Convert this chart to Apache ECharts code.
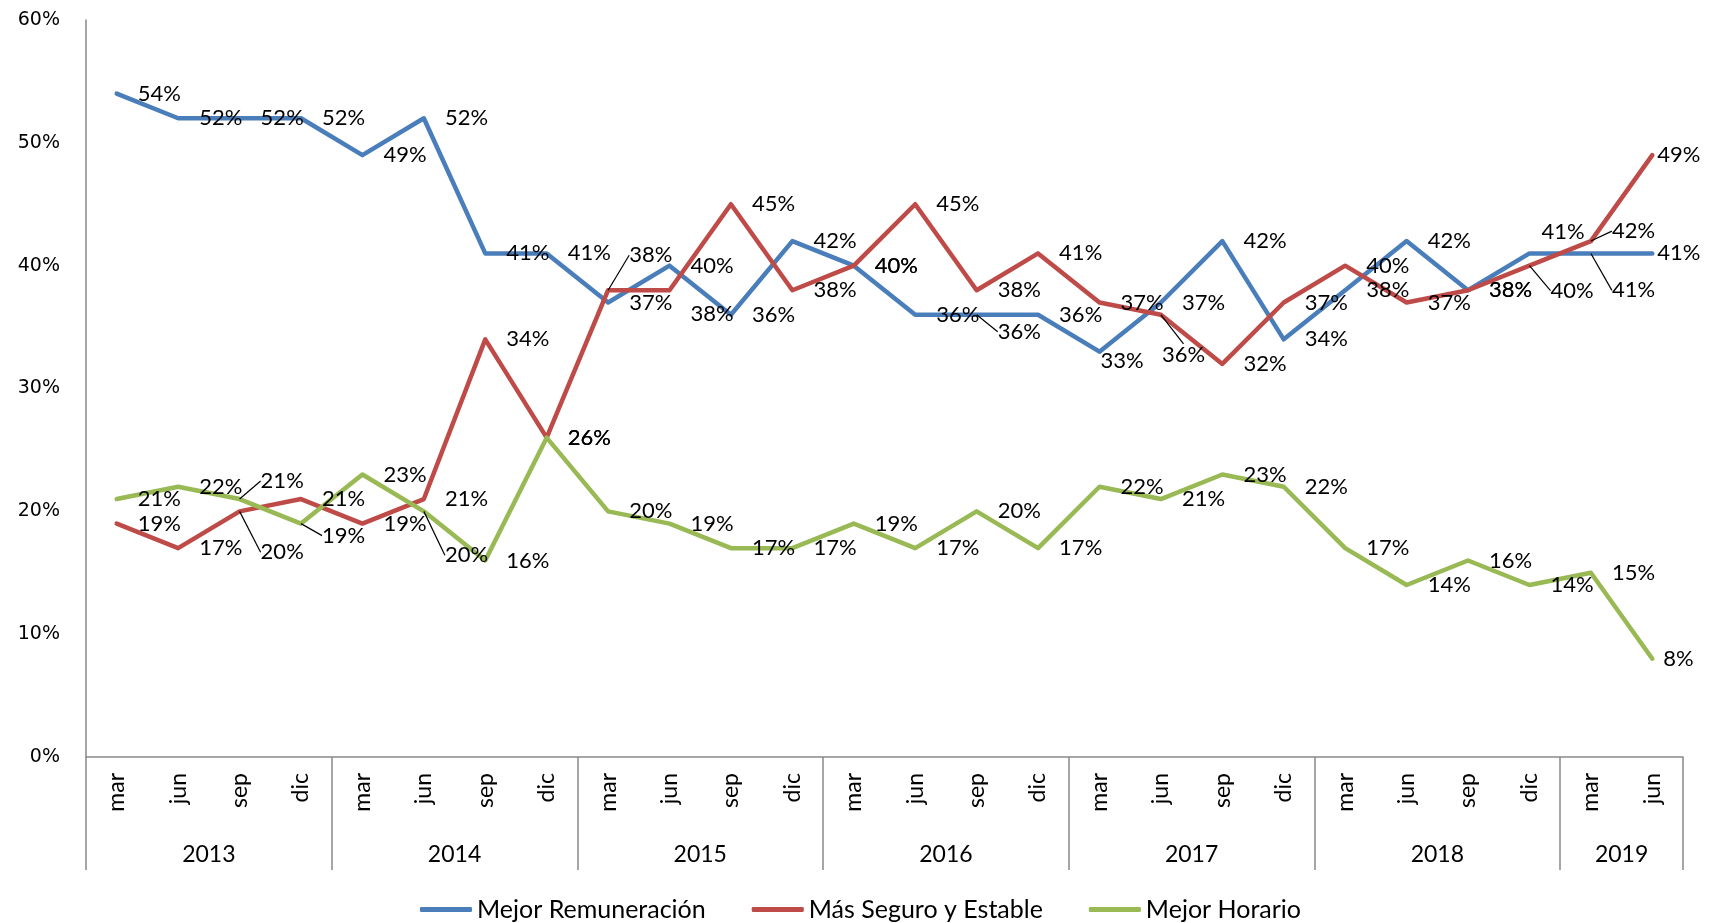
<!DOCTYPE html>
<html>
<head>
<meta charset="utf-8">
<script src="https://cdn.jsdelivr.net/npm/echarts@6/dist/echarts.min.js"></script>
<style>
  html, body { margin: 0; padding: 0; background: #fff; }
  #main { width: 1721px; height: 923px; }
</style>
</head>
<body>
<div id="main"></div>
<script>
// categorias (trimestres) y años
var months = ['mar','jun','sep','dic','mar','jun','sep','dic','mar','jun','sep','dic','mar','jun','sep','dic',
  'mar','jun','sep','dic','mar','jun','sep','dic','mar','jun'];
var years = ['2013','2014','2015','2016','2017','2018','2019'];
var quartersPerYear = [4, 4, 4, 4, 4, 4, 2];

var remuneracion = [54,52,52,52, 49,52,41,41, 37,40,36,42, 40,36,36,36, 33,37,42,34, 38,42,38,41, 41,41];
var seguro       = [19,17,20,21, 19,21,34,26, 38,38,45,38, 40,45,38,41, 37,36,32,37, 40,37,38,40, 42,49];
var horario      = [21,22,21,19, 23,20,16,26, 20,19,17,17, 19,17,20,17, 22,21,23,22, 17,14,16,14, 15,8];

var seriesNames = ['Mejor Remuneración', 'Más Seguro y Estable', 'Mejor Horario'];
var yTicks = [0, 10, 20, 30, 40, 50, 60];

// desplazamiento manual de algunas etiquetas (como en el original)
var labelShift = [
  {14: [0, 17], 16: [-20, 9], 23: [-9, -21], 24: [0, 37], 25: [-16, 0]},
  {2: [0, 41], 8: [0, -35], 9: [0, 24], 17: [-20, 40], 23: [0, 25], 24: [0, -10], 25: [-16, 0]},
  {2: [0, -18], 3: [0, 12], 5: [0, 44], 25: [-10, 0]}
];
var leaders = [[14, 24], [2, 8, 17, 23, 24], [2, 3, 5]];

// bordes de año y centros del eje de años
var bounds = [0], centers = [];
quartersPerYear.forEach(function (n) {
  var b = bounds[bounds.length - 1];
  centers.push(b + n / 2);
  bounds.push(b + n);
});

var chart = echarts.init(document.getElementById('main'));
var colors = ['#4A7EBB', '#BE4B48', '#98B954'];
var font = 'Lato, "Open Sans", sans-serif';

function buildData(arr, si) {
  return arr.map(function (v, i) {
    if (leaders[si].indexOf(i) >= 0) {
      return { value: v, labelLine: { show: true } };
    }
    return v;
  });
}

function makeSeries(name, arr, si) {
  return {
    name: name,
    type: 'line',
    data: buildData(arr, si),
    color: colors[si],
    symbol: 'circle',
    symbolSize: 0.1,
    lineStyle: { width: 4.5, color: colors[si], join: 'round', cap: 'round' },
    label: {
      show: true,
      position: 'right',
      distance: 21,
      formatter: '{c}%',
      color: '#000',
      fontSize: 22,
      fontFamily: font
    },
    labelLine: { show: false, lineStyle: { color: '#000', width: 1.2 } },
    labelLayout: function (p) {
      var s = labelShift[si][p.dataIndex];
      return s ? { dx: s[0], dy: s[1] } : {};
    },
    emphasis: { disabled: true }
  };
}

var option = {
  animation: false,
  backgroundColor: '#fff',
  grid: { left: 86, right: 38, top: 20, bottom: 166 },
  legend: {
    left: 'center',
    top: 892,
    itemWidth: 52,
    itemHeight: 5,
    itemGap: 46,
    icon: 'roundRect',
    textStyle: { fontSize: 25, fontFamily: font, color: '#000' },
    data: seriesNames
  },
  xAxis: [
    {
      type: 'category',
      data: months,
      boundaryGap: true,
      axisLine: { lineStyle: { color: '#898989', width: 1.5 } },
      axisTick: { show: false },
      axisLabel: {
        rotate: 90,
        margin: 16,
        fontSize: 23,
        fontFamily: font,
        color: '#000',
        interval: 0
      }
    },
    {
      type: 'value',
      position: 'bottom',
      min: 0,
      max: months.length,
      splitLine: { show: false },
      axisLine: { show: false },
      axisTick: {
        show: true,
        customValues: bounds,
        length: 113,
        lineStyle: { color: '#898989', width: 1.5 }
      },
      axisLabel: {
        customValues: centers,
        margin: 86,
        fontSize: 23,
        fontFamily: font,
        color: '#000',
        formatter: function (v) {
          var k = centers.indexOf(v);
          return k >= 0 ? years[k] : '';
        }
      }
    }
  ],
  yAxis: {
    type: 'value',
    min: yTicks[0],
    max: yTicks[yTicks.length - 1],
    interval: 10,
    axisLine: { show: true, lineStyle: { color: '#898989', width: 1.5 } },
    axisTick: { show: false },
    splitLine: { show: false },
    axisLabel: {
      formatter: '{value}%',
      margin: 26,
      fontSize: 19,
      fontFamily: '"DejaVu Sans", sans-serif',
      color: '#000'
    }
  },
  series: [
    makeSeries(seriesNames[0], remuneracion, 0),
    makeSeries(seriesNames[1], seguro, 1),
    makeSeries(seriesNames[2], horario, 2)
  ]
};

chart.setOption(option);
</script>
</body>
</html>
